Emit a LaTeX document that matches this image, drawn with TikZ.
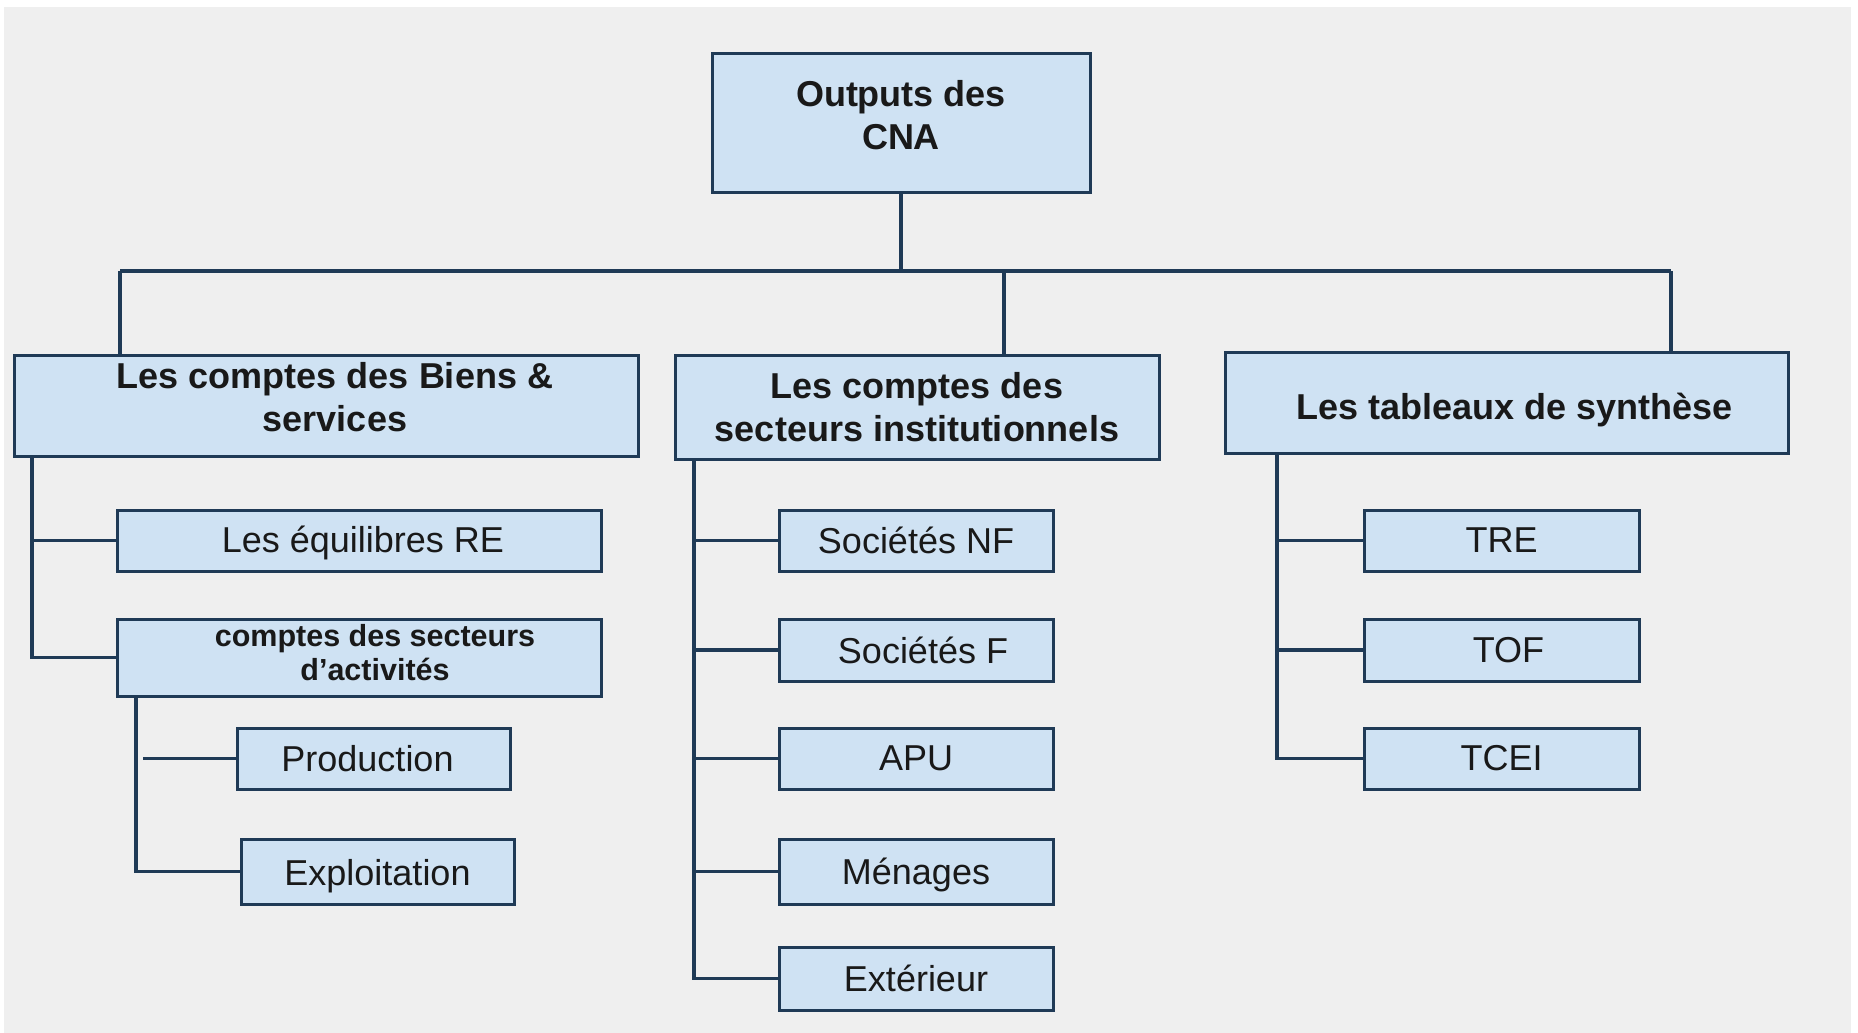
\documentclass[tikz,border=0pt]{standalone}
\usepackage{fontspec}
\setmainfont{Liberation Sans}
\definecolor{bgc}{HTML}{EFEFEF}
\definecolor{boxfill}{HTML}{CFE2F3}
\definecolor{linec}{HTML}{1F3A56}
\newcommand\shiftup[2]{\raisebox{#1}[\height][\depth]{#2}}
\begin{document}
\begin{tikzpicture}[x=1pt,y=-1pt,
  box/.style={draw=linec, line width=3pt, fill=boxfill, inner sep=0pt, align=center, text=black!90},
  bighead/.style={box, font=\fontsize{36}{43}\selectfont\bfseries},
  smallhead/.style={box, font=\fontsize{30.5}{34.5}\selectfont\bfseries},
  leaf/.style={box, font=\fontsize{36}{43}\selectfont},
  conn/.style={draw=linec, line width=3.5pt}]
\useasboundingbox (0,0) rectangle (1858,1033);
\fill[white] (0,0) rectangle (1858,1033);
\fill[bgc] (4,7) rectangle (1851,1033);

% boxes
\node[bighead, minimum width=378, minimum height=138] (root) at (901,123)
  {\shiftup{4pt}{\begin{tabular}{@{}c@{}}Outputs des\\CNA\end{tabular}}};
\node[bighead, minimum width=624, minimum height=101] (b1) at (326,405.5)
  {\shiftup{4pt}{\hspace*{18pt}\begin{tabular}{@{}c@{}}Les comptes des Biens \&\\services\end{tabular}}};
\node[bighead, minimum width=484, minimum height=104] (b2) at (917,407) {Les comptes des\\secteurs institutionnels};
\node[bighead, minimum width=563, minimum height=101] (b3) at (1506.5,402.5) {\shiftup{-7.5pt}{\hspace*{16pt}Les tableaux de synthèse}};

\node[leaf, minimum width=484, minimum height=61] (re) at (359,540.5) {\shiftup{-2.5pt}{\hspace*{8pt}Les équilibres RE}};
\node[smallhead, minimum width=484, minimum height=77] (csa) at (359,657.5)
  {\shiftup{1pt}{\hspace*{32pt}\begin{tabular}{@{}c@{}}comptes des secteurs\\d’activités\end{tabular}}};
\node[leaf, minimum width=273, minimum height=61] (prod) at (373.5,758.5) {Production\hspace*{12pt}};
\node[leaf, minimum width=273, minimum height=65] (expl) at (377.5,871.5) {\shiftup{-4.5pt}{Exploitation}};

\node[leaf, minimum width=274, minimum height=61] (snf) at (916,540.5) {Sociétés NF};
\node[leaf, minimum width=274, minimum height=62] (sf) at (916,650) {\hspace*{14pt}Sociétés F};
\node[leaf, minimum width=274, minimum height=61] (apu) at (916,758.5) {APU};
\node[leaf, minimum width=274, minimum height=65] (men) at (916,871.5) {\shiftup{-3.5pt}{Ménages}};
\node[leaf, minimum width=274, minimum height=63] (ext) at (916,978.5) {Extérieur};

\node[leaf, minimum width=275, minimum height=61] (tre) at (1501.5,540.5) {TRE};
\node[leaf, minimum width=275, minimum height=62] (tof) at (1501.5,650) {\hspace*{14pt}TOF};
\node[leaf, minimum width=275, minimum height=61] (tcei) at (1501.5,758.5) {TCEI};

% top bus
\coordinate (busL) at (120,271);
\coordinate (busM) at (1004,271);
\coordinate (busR) at (1671,271);
\draw[conn] (root.south) -- (root.south |- busL);
\draw[conn] (busL) -- (busR);
\draw[conn] (busL) -- (busL |- b1.north);
\draw[conn] (busM) -- (busM |- b2.north);
\draw[conn] (busR) -- (busR |- b3.north);

% spine 1
\coordinate (s1) at (32,456);
\draw[conn] (s1) -- (s1 |- csa.west) -- (csa.west);
\draw[conn] (s1 |- re.west) -- (re.west);

% spine 1b
\coordinate (s1b) at (136,696);
\coordinate (pstart) at (143,758.5);
\draw[conn] (s1b) -- (s1b |- expl.west) -- (expl.west);
\draw[conn] (pstart) -- (prod.west);

% spine 2
\coordinate (s2) at (694,459);
\draw[conn] (s2) -- (s2 |- ext.west) -- (ext.west);
\draw[conn] (s2 |- snf.west) -- (snf.west);
\draw[conn] (s2 |- sf.west) -- (sf.west);
\draw[conn] (s2 |- apu.west) -- (apu.west);
\draw[conn] (s2 |- men.west) -- (men.west);

% spine 3
\coordinate (s3) at (1277,453);
\draw[conn] (s3) -- (s3 |- tcei.west) -- (tcei.west);
\draw[conn] (s3 |- tre.west) -- (tre.west);
\draw[conn] (s3 |- tof.west) -- (tof.west);
\end{tikzpicture}
\end{document}
